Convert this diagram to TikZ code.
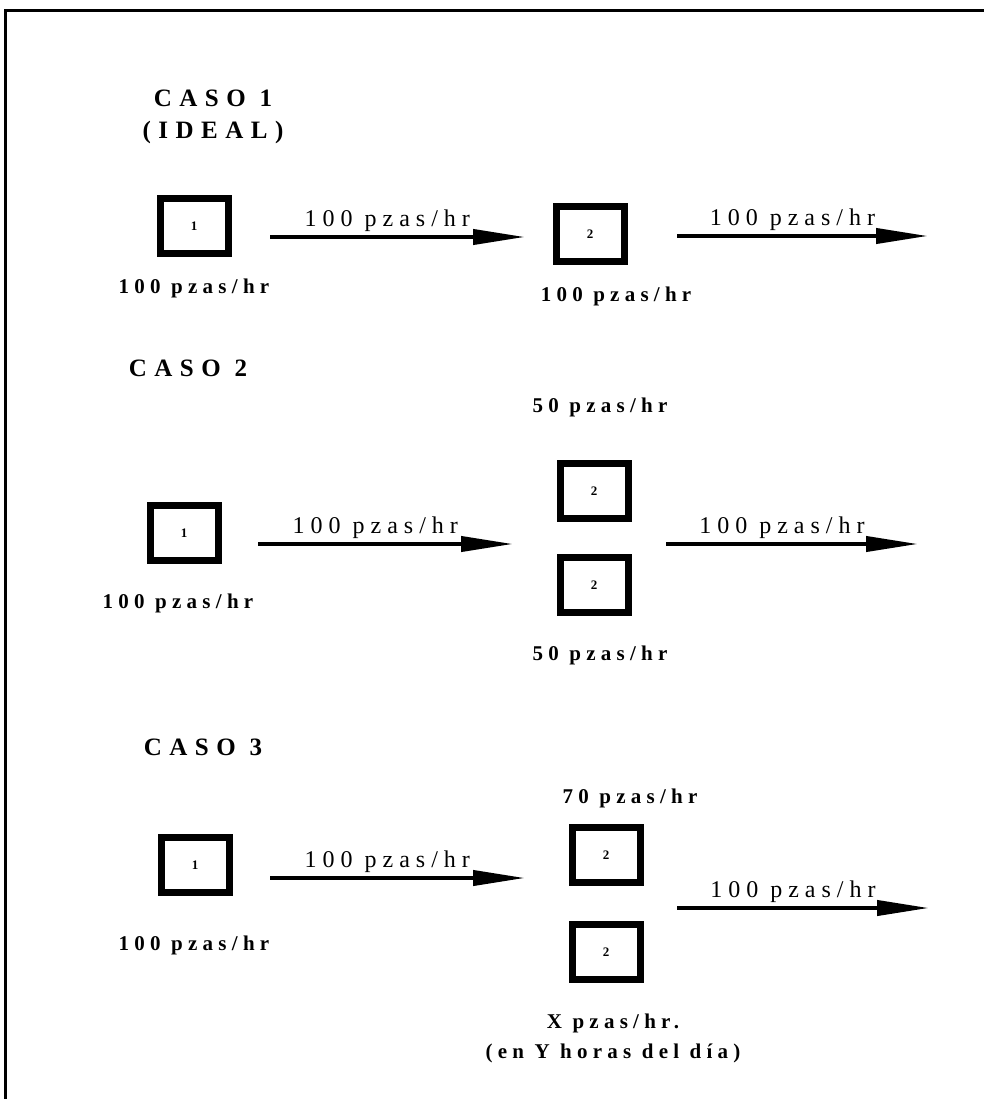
\documentclass[tikz,border=0pt]{standalone}
\usepackage{fontspec}
\setmainfont{Liberation Serif}
\newfontfamily\hdfont[LetterSpace=30]{Liberation Serif}
\newfontfamily\lbfont[LetterSpace=25]{Liberation Serif}
\usetikzlibrary{arrows.meta,positioning}
\tikzset{
  mq/.style={draw,line width=7pt,minimum width=68pt,minimum height=55pt,inner sep=0pt,font=\bfseries\fontsize{13}{13}\selectfont},
  hd/.style={font=\hdfont\bfseries\fontsize{25}{32}\selectfont,align=center},
  rt/.style={font=\lbfont\bfseries\fontsize{21}{30}\selectfont,align=center},
  fl/.style={font=\lbfont\fontsize{24}{26}\selectfont,inner sep=3pt},
  ar/.style={-{Triangle[length=52pt,width=15pt]},line width=4pt},
}
\begin{document}
\begin{tikzpicture}[x=1pt,y=-1pt]
  \useasboundingbox (0,0) rectangle (984,1099);
  \draw[line width=3pt] (5,1099) -- (5,11) -- (984,11);
  % caso 1
  \node[hd] (h1) at (213,117) {CASO 1\\(IDEAL)};
  \node[mq] (a1) at (194,226) {1};
  \node[mq] (b1) at (590,234) {2};
  \node[rt] (ra1) at (194,288) {100 pzas/hr};
  \node[rt] (rb1) at (616,296) {100 pzas/hr};
  \coordinate (p1) at (270,237); \coordinate (q1) at (525,237);
  \coordinate (s1) at (677,236); \coordinate (t1) at (928,236);
  \draw[ar] (p1) -- node[fl,above,pos=.46] {100 pzas/hr} (q1);
  \draw[ar] (s1) -- node[fl,above,pos=.46] {100 pzas/hr} (t1);
  % caso 2
  \node[hd] (h2) at (188,368) {CASO 2};
  \node[mq] (a2) at (184,533) {1};
  \node[mq] (b2) at (594,491) {2};
  \node[mq] (c2) at (594,585) {2};
  \node[rt] (ra2) at (178,603) {100 pzas/hr};
  \node[rt] (rb2) at (600,407) {50 pzas/hr};
  \node[rt] (rc2) at (600,655) {50 pzas/hr};
  \coordinate (p2) at (258,544); \coordinate (q2) at (513,544);
  \coordinate (s2) at (666,544); \coordinate (t2) at (918,544);
  \draw[ar] (p2) -- node[fl,above,pos=.46] {100 pzas/hr} (q2);
  \draw[ar] (s2) -- node[fl,above,pos=.46] {100 pzas/hr} (t2);
  % caso 3
  \node[hd] (h3) at (203,747) {CASO 3};
  \node[mq] (a3) at (195,865) {1};
  \node[mq] (b3) at (606,855) {2};
  \node[mq] (c3) at (606,952) {2};
  \node[rt] (ra3) at (194,945) {100 pzas/hr};
  \node[rt] (rb3) at (630,798) {70 pzas/hr};
  \node[rt] (rc3) at (613,1038) {X pzas/hr.\\(en Y horas del día)};
  \coordinate (p3) at (270,878); \coordinate (q3) at (525,878);
  \coordinate (s3) at (677,908); \coordinate (t3) at (929,908);
  \draw[ar] (p3) -- node[fl,above,pos=.46] {100 pzas/hr} (q3);
  \draw[ar] (s3) -- node[fl,above,pos=.46] {100 pzas/hr} (t3);
\end{tikzpicture}
\end{document}
